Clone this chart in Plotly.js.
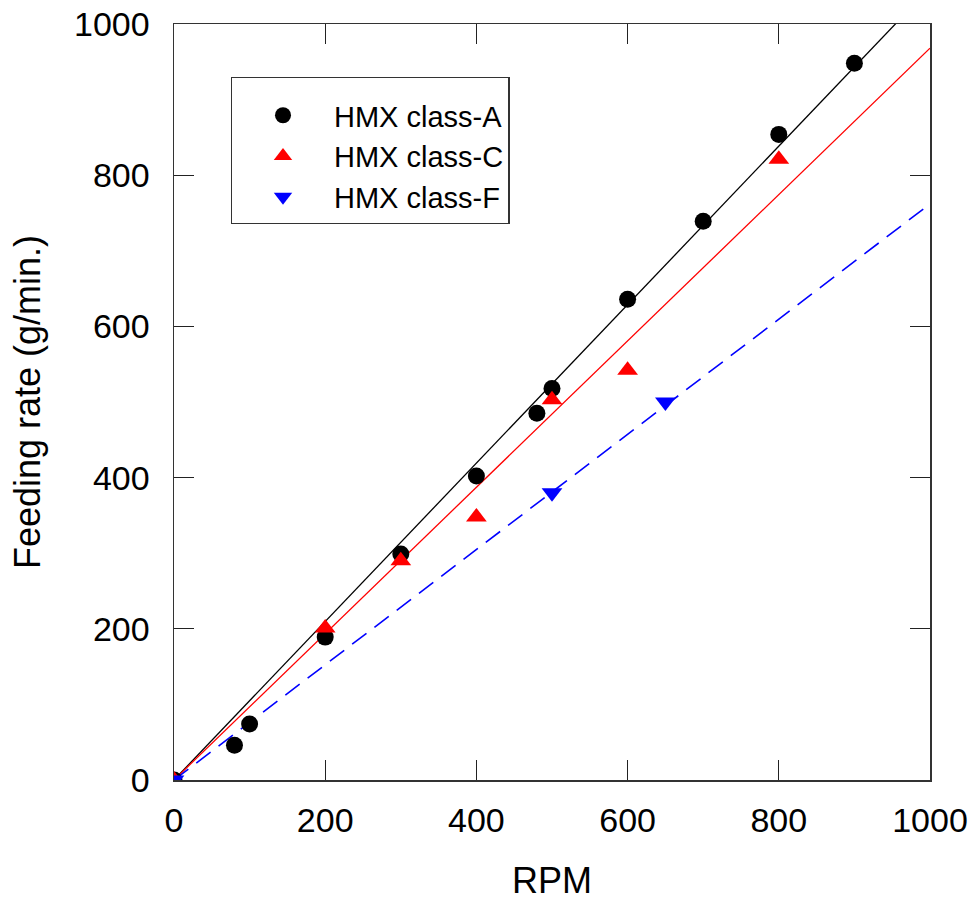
<!DOCTYPE html>
<html>
<head>
<meta charset="utf-8">
<script src="https://cdn.plot.ly/plotly-3.0.1.min.js"></script>
<style>html,body{margin:0;padding:0;background:#fff;}</style>
</head>
<body>
<div id="chart" style="width:975px;height:901px;"></div>
<script>
// Data
const rpmA = [0, 80, 100, 200, 300, 400, 480, 500, 600, 700, 800, 900];
const rateA = [0, 46, 74, 189, 299, 402, 485, 518, 636, 739, 854, 948];
const rpmC = [0, 200, 300, 400, 500, 600, 800];
const rateC = [0, 201, 290, 348, 503, 542, 821];
const rpmF = [0, 500, 650];
const rateF = [0, 380, 500];
// Linear fit lines (through origin)
const fitX = [0, 1000];
const fitA = [0, 1048];
const fitC = [0, 968];
const fitF = [0, 762];

const font = "'Liberation Sans', Arial, sans-serif";

const traces = [
  {x: fitX, y: fitA, mode: 'lines', line: {color: 'black', width: 1.3}, showlegend: false, hoverinfo: 'skip'},
  {x: fitX, y: fitC, mode: 'lines', line: {color: 'red', width: 1.3}, showlegend: false, hoverinfo: 'skip'},
  {x: fitX, y: fitF, mode: 'lines', line: {color: 'blue', width: 1.6, dash: '18px,10px'}, showlegend: false, hoverinfo: 'skip'},
  {x: rpmA, y: rateA, mode: 'markers', name: 'HMX class-A',
   marker: {symbol: 'circle', color: 'black', size: 17}},
  {x: rpmC, y: rateC, mode: 'markers', name: 'HMX class-C',
   marker: {symbol: 'triangle-up', color: 'red', size: 18}},
  {x: rpmF, y: rateF, mode: 'markers', name: 'HMX class-F',
   marker: {symbol: 'triangle-down', color: 'blue', size: 18}}
];

const axisCommon = {
  range: [0, 1000], dtick: 200, ticks: 'inside', ticklen: 20, tickwidth: 1.3, tickcolor: '#222',
  showline: true, linecolor: '#333', linewidth: 1.5, mirror: 'ticks', showgrid: false, zeroline: false,
  tickfont: {family: font, size: 34, color: 'black'}, fixedrange: true
};

const layout = {
  width: 975, height: 901,
  margin: {l: 174, r: 45, t: 24, b: 121},
  paper_bgcolor: 'white', plot_bgcolor: 'white',
  font: {family: font, color: 'black'},
  xaxis: Object.assign({}, axisCommon, {
    title: {text: 'RPM', font: {family: font, size: 36}, standoff: 30},
    ticklabelstandoff: 10
  }),
  yaxis: Object.assign({}, axisCommon, {
    title: {text: 'Feeding rate (g/min.)', font: {family: font, size: 36}, standoff: 22},
    ticklabelstandoff: 16
  }),
  showlegend: true,
  legend: {
    x: 0.075, y: 0.93, xanchor: 'left', yanchor: 'top',
    bordercolor: '#333', borderwidth: 1.3, bgcolor: 'white',
    font: {family: font, size: 29, color: 'black'},
    title: {text: ' ', font: {family: font, size: 9}},
    tracegroupgap: 0, itemwidth: 92
  }
};

Plotly.newPlot('chart', traces, layout, {displayModeBar: false, staticPlot: true});
</script>
</body>
</html>
